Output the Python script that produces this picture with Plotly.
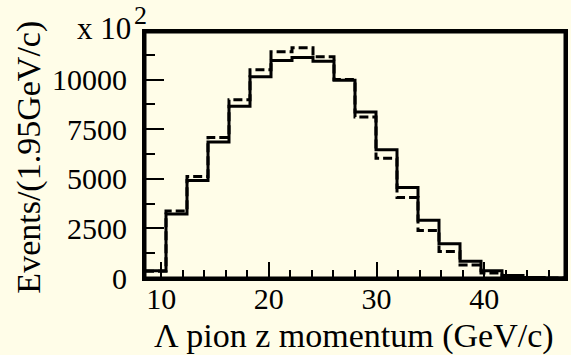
import plotly.graph_objects as go

# bin edges (GeV/c), width 1.95
bin_edges = [8.5 + 1.95 * i for i in range(21)]
solid_counts = [370, 3230, 4920, 6860, 8660, 10140, 10960, 11120, 10920, 9970,
                8370, 6460, 4560, 2910, 1730, 840, 370, 120, 30, 0]
dashed_counts = [340, 3380, 5120, 7080, 8990, 10500, 11400, 11600, 11150, 10000,
                 8110, 6030, 4060, 2390, 1330, 660, 250, 90, 15, 0]

x_title = "Λ pion z momentum (GeV/c)"
y_title = "Events/(1.95GeV/c)"
x_ticks = [10, 20, 30, 40]
y_ticks = [0, 2500, 5000, 7500, 10000]

bg = "#FFFDE8"
FONT = "Liberation Serif"

def step(vals):
    return bin_edges[:], vals + [vals[-1]]

fig = go.Figure()
xs, ys = step(dashed_counts)
fig.add_trace(go.Scatter(x=xs, y=ys, mode="lines", line_shape="hv",
                         line=dict(color="black", width=3, dash="9px,4px"),
                         showlegend=False))
xs, ys = step(solid_counts)
fig.add_trace(go.Scatter(x=xs, y=ys, mode="lines", line_shape="hv",
                         line=dict(color="black", width=3),
                         showlegend=False))

fig.update_layout(
    width=571, height=355,
    margin=dict(l=145, r=3, t=32, b=77),
    paper_bgcolor=bg, plot_bgcolor=bg,
    font=dict(family=FONT, size=30, color="black"),
    showlegend=False,
)
fig.update_xaxes(
    range=[8.5, 47.5], showgrid=False, zeroline=False,
    showline=True, linecolor="black", linewidth=3, mirror=True,
    ticks="inside", ticklen=16, tickwidth=2, tickcolor="black",
    tickvals=x_ticks, ticktext=[str(v) for v in x_ticks],
    ticklabelstandoff=-8,
    minor=dict(ticks="inside", ticklen=8, tickwidth=2, tickcolor="black", dtick=2, tick0=0),
)
fig.update_yaxes(
    range=[0, 12400], showgrid=False, zeroline=False,
    showline=True, linecolor="black", linewidth=3, mirror=True,
    ticks="inside", ticklen=19, tickwidth=2, tickcolor="black",
    tickvals=y_ticks, ticktext=[str(v) for v in y_ticks],
    ticklabelstandoff=9,
    minor=dict(ticks="inside", ticklen=10, tickwidth=2, tickcolor="black", dtick=1250, tick0=0),
)
# plot frame
fig.add_shape(type="rect", xref="paper", yref="paper", x0=0, x1=1, y0=0, y1=1,
              line=dict(color="black", width=3), layer="above")
fig.add_annotation(text=x_title, xref="paper", yref="paper", x=0.4965, y=0,
                   xanchor="center", yanchor="middle", yshift=-58, showarrow=False,
                   font=dict(family=FONT, size=34, color="black"))
fig.add_annotation(text=y_title, xref="paper", yref="paper", x=-0.277, y=0.492,
                   xanchor="center", yanchor="middle", textangle=-90, showarrow=False,
                   font=dict(family=FONT, size=34, color="black"))
fig.add_annotation(text="x 10", xref="paper", yref="paper", x=-0.028, y=1,
                   xanchor="right", yanchor="middle", yshift=4, showarrow=False,
                   font=dict(family=FONT, size=31, color="black"))
fig.add_annotation(text="2", xref="paper", yref="paper", x=-0.030, y=1,
                   xanchor="left", yanchor="middle", yshift=17, showarrow=False,
                   font=dict(family=FONT, size=26, color="black"))

fig.write_html("out.html", config={"displayModeBar": False},
               post_script="document.body.style.margin='0';document.body.style.background='%s';" % bg)
